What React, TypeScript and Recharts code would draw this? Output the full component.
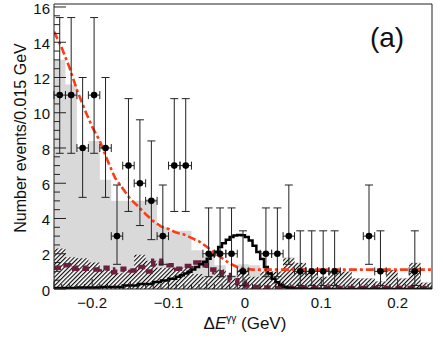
import React from "react";
import {
  ComposedChart,
  Area,
  Line,
  Scatter,
  ErrorBar,
  XAxis,
  YAxis,
  ReferenceLine,
} from "recharts";

// histogram binning: 33 bins of 0.015 GeV from -0.25 to 0.245
const BIN_LO = -0.25;
const BIN_W = 0.015;
const X_MAX = 0.245;
const Y_MAX = 16.17;

// observed events per bin
const dataCounts = [11, 11, 8, 11, 8, 3, 7, 6, 5, 3, 7, 7, 0, 2, 2, 2, 1, 0, 2, 2, 3, 1, 1, 1, 1, 0, 0, 3, 1, 0, 0, 1, 0];
const errLow = [3.3, 3.3, 2.8, 3.3, 2.8, 1.6, 2.6, 2.4, 2.2, 1.6, 2.6, 2.6, 0, 1.3, 1.3, 1.3, 0.8, 0, 1.3, 1.3, 1.6, 0.8, 0.8, 0.8, 0.8, 0, 0, 1.6, 0.8, 0, 0, 0.8, 0];
const errHigh = [4.4, 4.4, 4.0, 4.4, 4.0, 2.9, 3.8, 3.6, 3.4, 2.9, 3.8, 3.8, 0, 2.6, 2.6, 2.6, 2.3, 0, 2.6, 2.6, 2.9, 2.3, 2.3, 2.3, 2.3, 0, 0, 2.9, 2.3, 0, 0, 2.3, 0];

// grey: total background, hatched: peaking background
const totalBkg = [13.0, 11.6, 7.9, 8.4, 6.2, 5.0, 5.0, 5.0, 5.1, 3.5, 3.3, 3.3, 2.2, 1.9, 1.35, 0.8, 1.4, 1.35, 1.0, 1.0, 1.8, 1.5, 1.0, 0.7, 1.0, 1.0, 0.62, 0.62, 0.45, 1.1, 0.62, 1.5, 0.38];
const peakingBkg = [2.3, 1.8, 1.75, 1.5, 1.1, 0.9, 1.1, 1.95, 1.6, 1.2, 1.2, 1.2, 0.85, 0.7, 1.1, 0.6, 1.14, 0.7, 0.99, 0.99, 1.74, 1.47, 0.99, 0.7, 0.99, 0.99, 0.6, 0.6, 0.42, 1.08, 0.6, 1.47, 0.35];

// red dashed: total fit
const fitX = [-0.25, -0.24, -0.23, -0.22, -0.21, -0.2, -0.19, -0.18, -0.17, -0.16, -0.15, -0.14, -0.13, -0.12, -0.11, -0.1, -0.09, -0.08, -0.07, -0.06, -0.05, -0.04, -0.03, -0.02, -0.01, 0.0, 0.01, 0.02, 0.245];
const fitY = [14.6, 13.7, 12.6, 11.3, 10.2, 9.2, 8.4, 7.3, 6.3, 5.7, 5.1, 4.7, 4.25, 3.85, 3.55, 3.4, 3.2, 3.1, 2.9, 2.7, 2.4, 2.05, 1.75, 1.45, 1.25, 1.15, 1.1, 1.1, 1.1];

// black solid: signal shape
const sigX = [-0.25, -0.22, -0.19, -0.16, -0.14, -0.12, -0.11, -0.1, -0.09, -0.085, -0.08, -0.075, -0.07, -0.065, -0.06, -0.055, -0.05, -0.045, -0.04, -0.035, -0.03, -0.025, -0.02, -0.015, -0.01, -0.005, 0.0, 0.005, 0.01, 0.015, 0.02, 0.025, 0.03, 0.035, 0.04, 0.045, 0.05, 0.055, 0.06, 0.07, 0.08, 0.245];
const sigY = [0.05, 0.08, 0.12, 0.2, 0.28, 0.4, 0.48, 0.58, 0.7, 0.78, 0.88, 0.98, 1.1, 1.25, 1.4, 1.55, 1.72, 1.92, 2.12, 2.38, 2.6, 2.8, 2.95, 3.03, 3.07, 3.05, 2.95, 2.75, 2.45, 2.1, 1.7, 1.25, 0.88, 0.58, 0.38, 0.22, 0.13, 0.06, 0.03, 0.01, 0, 0];

// maroon dashed: peaking background shape
const peakX = [-0.25, -0.24, -0.23, -0.22, -0.21, -0.2, -0.19, -0.18, -0.17, -0.16, -0.15, -0.14, -0.13, -0.12, -0.11, -0.1, -0.09, -0.08, -0.07, -0.06, -0.05, -0.04, -0.03, -0.02, -0.01, 0.0, 0.01, 0.02, 0.03, 0.245];
const peakY = [1.2, 1.35, 1.15, 1.2, 1.15, 1.1, 1.2, 0.95, 1.1, 1.15, 1.05, 1.25, 1.0, 1.6, 1.45, 1.35, 1.15, 1.3, 1.5, 1.35, 1.1, 0.95, 0.8, 0.5, 0.32, 0.2, 0.12, 0.08, 0.05, 0.05];

const xLabelAt = [-0.2, -0.1, 0, 0.1, 0.2];
const xTickLabels = ["\u22120.2", "\u22120.1", "0", "0.1", "0.2"];
const yLabelAt = [0, 2, 4, 6, 8, 10, 12, 14, 16];
const yTickLabels = ["0", "2", "4", "6", "8", "10", "12", "14", "16"];

const FONT = "'Liberation Sans', Arial, Helvetica, sans-serif";
const AXIS = "#222";

const r4 = (v: number) => Math.round(v * 10000) / 10000;

const toHist = (vals: number[]) => [
  ...vals.map((v, i) => ({ x: r4(BIN_LO + i * BIN_W), v })),
  { x: X_MAX, v: vals[vals.length - 1] },
];
const toCurve = (xs: number[], ys: number[]) => xs.map((x, i) => ({ x, v: ys[i] }));

const totalData = toHist(totalBkg);
const peakingData = toHist(peakingBkg);
const fitData = toCurve(fitX, fitY);
const sigData = toCurve(sigX, sigY);
const peakData = toCurve(peakX, peakY);
const points = dataCounts
  .map((c, i) => ({
    x: r4(BIN_LO + (i + 0.5) * BIN_W),
    v: c,
    ey: [errLow[i], errHigh[i]],
    ex: BIN_W / 2,
  }))
  .filter((p) => p.v > 0);

// tick positions every 0.01 (x) and 0.5 (y)
const xTicks = Array.from({ length: 50 }, (_, i) => r4(-0.25 + i * 0.01));
const yTicks = Array.from({ length: 33 }, (_, i) => i * 0.5);

const XTick = (props: any) => {
  const { x, y, payload } = props;
  const v = payload.value;
  const k = Math.round(v * 100);
  const len = k % 10 === 0 ? 10 : k % 5 === 0 ? 7.5 : 5;
  const li = xLabelAt.findIndex((t) => Math.abs(t - v) < 1e-6);
  return (
    <g>
      <line x1={x} x2={x} y1={y} y2={y - len} stroke={AXIS} strokeWidth={1} />
      {li >= 0 && (
        <text x={x} y={y + 19} textAnchor="middle" fontSize={15} fontFamily={FONT} fill="#111">
          {xTickLabels[li]}
        </text>
      )}
    </g>
  );
};

const YTick = (props: any) => {
  const { x, y, payload } = props;
  const v = payload.value;
  const li = yLabelAt.findIndex((t) => Math.abs(t - v) < 1e-6);
  return (
    <g>
      <line x1={x} x2={x + (li >= 0 ? 12 : 6)} y1={y} y2={y} stroke={AXIS} strokeWidth={1} />
      {li >= 0 && (
        <text x={x - 4} y={y} dy="0.45em" textAnchor="end" fontSize={15} fontFamily={FONT} fill="#111">
          {yTickLabels[li]}
        </text>
      )}
    </g>
  );
};

const Dot = (p: any) => <circle cx={p.cx} cy={p.cy} r={3.3} fill="#000" />;

export default function App() {
  return (
    <div style={{ position: "absolute", left: 0, top: 0, width: 443, height: 339, background: "#fff" }}>
      <svg width={0} height={0} style={{ position: "absolute" }}>
        <defs>
          <pattern id="hatch" patternUnits="userSpaceOnUse" width="3" height="3" patternTransform="rotate(45)">
            <rect width="3" height="3" fill="#fff" />
            <line x1="0.6" y1="0" x2="0.6" y2="3" stroke="#000" strokeWidth="1.1" />
          </pattern>
        </defs>
      </svg>
      <ComposedChart width={443} height={339} margin={{ top: 4, right: 11, bottom: 0, left: 0 }}>
        <XAxis
          type="number"
          dataKey="x"
          domain={[BIN_LO, X_MAX]}
          allowDataOverflow
          ticks={xTicks}
          interval={0}
          tick={<XTick />}
          tickLine={false}
          tickSize={0}
          tickMargin={0}
          height={50}
          axisLine={{ stroke: AXIS }}
        />
        <YAxis
          type="number"
          dataKey="v"
          domain={[0, Y_MAX]}
          allowDataOverflow
          ticks={yTicks}
          interval={0}
          tick={<YTick />}
          tickLine={false}
          tickSize={0}
          tickMargin={0}
          width={54}
          axisLine={{ stroke: AXIS }}
        />
        <Area data={totalData} dataKey="v" type="stepAfter" fill="#d9d9d9" fillOpacity={1} stroke="none" baseValue={0} isAnimationActive={false} />
        <Area data={peakingData} dataKey="v" type="stepAfter" fill="url(#hatch)" fillOpacity={1} stroke="none" baseValue={0} isAnimationActive={false} />
        <Line data={peakData} dataKey="v" type="stepAfter" stroke="#6e1f3f" strokeWidth={4.5} strokeDasharray="7 5" dot={false} isAnimationActive={false} />
        <Line data={sigData} dataKey="v" type="stepAfter" stroke="#000" strokeWidth={2.5} dot={false} isAnimationActive={false} />
        <Line data={fitData} dataKey="v" type="linear" stroke="#ff3a14" strokeWidth={2.6} strokeDasharray="8 3 3 3" dot={false} isAnimationActive={false} />
        <ReferenceLine y={Y_MAX} stroke={AXIS} strokeWidth={1} />
        <ReferenceLine x={X_MAX} stroke={AXIS} strokeWidth={1} />
        <Scatter data={points} dataKey="v" shape={<Dot />} isAnimationActive={false}>
          <ErrorBar dataKey="ey" direction="y" width={4} stroke="#222" strokeWidth={1} isAnimationActive={false} />
          <ErrorBar dataKey="ex" direction="x" width={4} stroke="#222" strokeWidth={1} isAnimationActive={false} />
        </Scatter>
      </ComposedChart>
      <svg width={443} height={339} style={{ position: "absolute", left: 0, top: 0, pointerEvents: "none" }}>
        <text x={26} y={138} transform="rotate(-90 26 138)" textAnchor="middle" fontSize={16} fontFamily={FONT} fill="#111">
          Number events/0.015 GeV
        </text>
        <text x={245} y={329} textAnchor="middle" fontSize={17} fontFamily={FONT} fill="#111">
          {"\u0394"}
          <tspan fontStyle="italic">E</tspan>
          <tspan fontSize={10} dy={-7}>{"\u03b3\u03b3"}</tspan>
          <tspan dy={7}>{" (GeV)"}</tspan>
        </text>
        <text x={387} y={47} textAnchor="middle" fontSize={28} fontFamily={FONT} fill="#111">
          (a)
        </text>
      </svg>
    </div>
  );
}
